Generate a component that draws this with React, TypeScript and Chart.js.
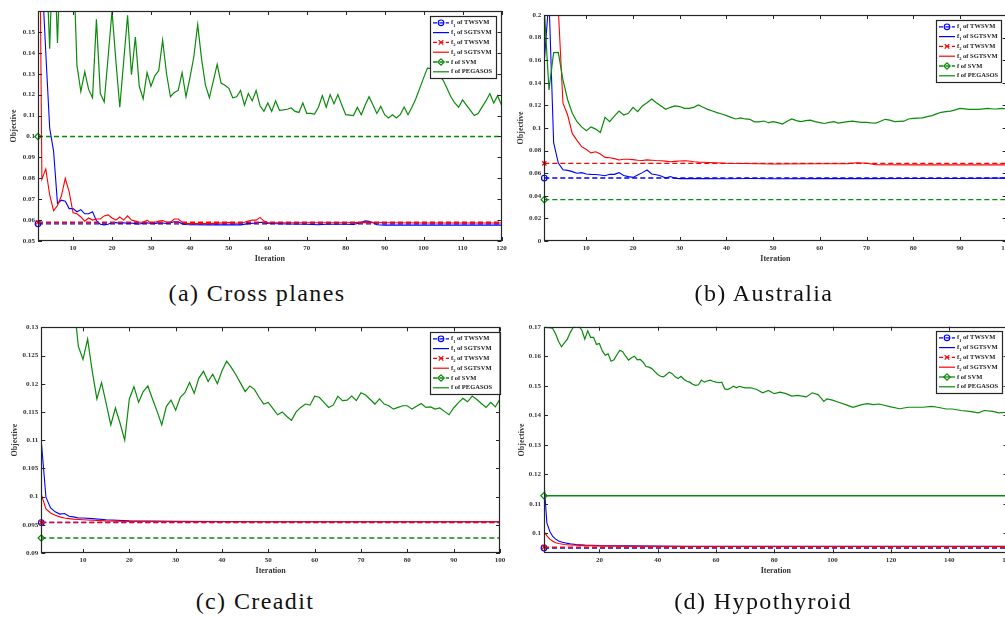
import React, { useEffect, useRef } from "react";
import { Chart, registerables } from "chart.js";

Chart.register(...registerables);

const FONT = '"Liberation Serif", "Times New Roman", Times, serif';
const BLUE = "#0000ff";
const RED = "#ff0000";
const GREEN = "#0b8a0b";
const AXIS = "#262626";

const seriesLabels = [
  "f1 of TWSVM",
  "f1 of SGTSVM",
  "f2 of TWSVM",
  "f2 of SGTSVM",
  "f of SVM",
  "f of PEGASOS",
];
const yAxisTitle = "Objective";
const xAxisTitle = "Iteration";

// ---------------- (a) Cross planes ----------------
const crossXTicks = [10, 20, 30, 40, 50, 60, 70, 80, 90, 100, 110, 120];
const crossYTicks = [0.05, 0.06, 0.07, 0.08, 0.09, 0.1, 0.11, 0.12, 0.13, 0.14, 0.15];
const crossTwsvm = [0.0582, 0.059]; // f1, f2
const crossSvm = [0.1];
const crossSgF1: [number, number][] = [
  [1, 0.3], [2, 0.178], [3, 0.14], [4, 0.104], [5, 0.093], [6, 0.068], [7, 0.0695], [8, 0.069], [9, 0.0655], [10, 0.0655],
  [11, 0.064], [12, 0.065], [13, 0.063], [14, 0.063], [15, 0.064], [16, 0.0597], [17, 0.058], [18, 0.0577], [19, 0.058], [20, 0.0588],
  [21, 0.0588], [22, 0.0585], [23, 0.0587], [24, 0.0585], [25, 0.0586], [26, 0.0583], [27, 0.0581], [28, 0.0585], [29, 0.0587], [30, 0.0584],
  [31, 0.0583], [32, 0.0588], [33, 0.0586], [34, 0.0584], [35, 0.0588], [36, 0.0592], [37, 0.0592], [38, 0.0582], [39, 0.0579], [40, 0.0578],
  [45, 0.0577], [50, 0.0578], [53, 0.0577], [55, 0.0583], [57, 0.0586], [58, 0.059], [59, 0.0588], [60, 0.0584], [65, 0.0581], [70, 0.058],
  [73, 0.0578], [75, 0.058], [80, 0.058], [82, 0.0579], [83, 0.0584], [84, 0.0589], [85, 0.0596], [86, 0.0594], [87, 0.0588], [88, 0.0578],
  [90, 0.0576], [100, 0.0576], [110, 0.0576], [120, 0.0576],
];
const crossSgF2: [number, number][] = [
  [1, 0.3], [2, 0.0795], [3, 0.0845], [4, 0.072], [5, 0.0645], [6, 0.067], [7, 0.0715], [8, 0.08], [9, 0.0735], [10, 0.0635],
  [11, 0.063], [12, 0.0615], [13, 0.0595], [14, 0.061], [15, 0.06], [16, 0.0605], [17, 0.0605], [18, 0.062], [19, 0.0625], [20, 0.061],
  [21, 0.06], [22, 0.0615], [23, 0.06], [24, 0.062], [25, 0.06], [26, 0.0595], [27, 0.059], [28, 0.059], [29, 0.06], [30, 0.0585],
  [31, 0.059], [32, 0.0595], [33, 0.0598], [34, 0.059], [35, 0.059], [36, 0.0605], [37, 0.0605], [38, 0.059], [39, 0.0584], [40, 0.0583],
  [45, 0.0583], [50, 0.0588], [52, 0.0585], [54, 0.059], [55, 0.0595], [56, 0.06], [57, 0.06], [58, 0.0613], [59, 0.0595], [60, 0.0588],
  [70, 0.0587], [80, 0.0587], [85, 0.0589], [90, 0.0587], [100, 0.0586], [110, 0.0586], [120, 0.0586],
];
const crossPegasos = [
  0.19, 0.2, 0.19, 0.142, 0.2, 0.1447, 0.2, 0.2, 0.2, 0.19,
  0.134, 0.1215, 0.131, 0.1225, 0.1185, 0.156, 0.1205, 0.1165, 0.138, 0.16,
  0.136, 0.114, 0.136, 0.158, 0.1295, 0.1475, 0.124, 0.118, 0.1305, 0.124,
  0.129, 0.1315, 0.146, 0.13, 0.119, 0.121, 0.122, 0.1305, 0.119, 0.128,
  0.138, 0.1535, 0.137, 0.1245, 0.1185, 0.1265, 0.1345, 0.1255, 0.1245, 0.123,
  0.1185, 0.119, 0.122, 0.115, 0.1205, 0.117, 0.122, 0.1147, 0.112, 0.116,
  0.112, 0.117, 0.1125, 0.1127, 0.113, 0.1136, 0.112, 0.1115, 0.116, 0.111,
  0.111, 0.1107, 0.114, 0.1195, 0.114, 0.12, 0.1157, 0.12, 0.115, 0.1104,
  0.1102, 0.11, 0.1139, 0.1104, 0.115, 0.119, 0.115, 0.111, 0.1144, 0.1104,
  0.1088, 0.1104, 0.1088, 0.1104, 0.1141, 0.1104, 0.114, 0.118, 0.123, 0.128,
  0.1327, 0.1325, 0.131, 0.129, 0.127, 0.123, 0.119, 0.116, 0.114, 0.1175,
  0.115, 0.1125, 0.11, 0.111, 0.114, 0.117, 0.1205, 0.116, 0.1195, 0.115,
];

// ---------------- (b) Australia ----------------
const ausXTicks = [10, 20, 30, 40, 50, 60, 70, 80, 90, 100];
const ausYTicks = [0, 0.02, 0.04, 0.06, 0.08, 0.1, 0.12, 0.14, 0.16, 0.18, 0.2];
const ausTwsvm = [0.0557, 0.0687];
const ausSvm = [0.0366];
const ausSgF1: [number, number][] = [
  [1, 0.159], [2, 0.215], [3, 0.087], [4, 0.069], [5, 0.063], [6, 0.0625], [7, 0.0614], [8, 0.06], [9, 0.0605], [10, 0.0593],
  [11, 0.059], [12, 0.0588], [13, 0.0584], [14, 0.0578], [15, 0.059], [16, 0.059], [17, 0.0605], [18, 0.058], [19, 0.057], [20, 0.0563],
  [21, 0.0584], [22, 0.0605], [23, 0.0628], [24, 0.0593], [25, 0.0587], [26, 0.0575], [27, 0.0557], [28, 0.057], [29, 0.0555], [30, 0.0552],
  [35, 0.0552], [40, 0.0551], [45, 0.0553], [50, 0.0551], [60, 0.0552], [70, 0.0552], [80, 0.0553], [90, 0.0553], [100, 0.0556],
];
const ausSgF2: [number, number][] = [
  [1, 0.8], [2, 0.6], [3, 0.4], [4, 0.205], [5, 0.122], [6, 0.1115], [7, 0.095], [8, 0.089], [9, 0.0835], [10, 0.081],
  [11, 0.078], [12, 0.079], [13, 0.077], [14, 0.074], [15, 0.0737], [16, 0.0729], [17, 0.0717], [18, 0.0723], [19, 0.0723], [20, 0.072],
  [21, 0.0715], [22, 0.0712], [23, 0.0718], [24, 0.0715], [25, 0.0712], [26, 0.071], [27, 0.0707], [28, 0.0702], [29, 0.0705], [30, 0.0708],
  [31, 0.071], [32, 0.0708], [33, 0.0702], [34, 0.0698], [35, 0.0697], [40, 0.0688], [50, 0.0682], [60, 0.0683], [66, 0.0685], [68, 0.0693],
  [70, 0.0688], [72, 0.0676], [80, 0.0674], [90, 0.0674], [100, 0.0674],
];
const ausPegasos = [
  0.205, 0.1336, 0.1667, 0.167, 0.1425, 0.125, 0.113, 0.1056, 0.101, 0.0976,
  0.101, 0.099, 0.096, 0.1094, 0.1056, 0.1106, 0.115, 0.1115, 0.113, 0.1183,
  0.1145, 0.1195, 0.1224, 0.1257, 0.1224, 0.1195, 0.1165, 0.1183, 0.1195, 0.119,
  0.1174, 0.1174, 0.1183, 0.1204, 0.1183, 0.1165, 0.115, 0.1136, 0.1124, 0.111,
  0.1094, 0.108, 0.109, 0.108, 0.1077, 0.1055, 0.1055, 0.1062, 0.1047, 0.1056,
  0.1048, 0.1035, 0.106, 0.108, 0.1065, 0.1056, 0.1065, 0.107, 0.1056, 0.1048,
  0.104, 0.105, 0.1056, 0.1044, 0.105, 0.1056, 0.106, 0.1055, 0.105, 0.105,
  0.1046, 0.1044, 0.106, 0.1077, 0.107, 0.1056, 0.1058, 0.106, 0.108, 0.1085,
  0.1088, 0.109, 0.11, 0.111, 0.1125, 0.1139, 0.1145, 0.115, 0.116, 0.1174,
  0.117, 0.1165, 0.1165, 0.1165, 0.117, 0.1174, 0.1168, 0.117, 0.1174, 0.1168,
];

// ---------------- (c) Creadit ----------------
const credXTicks = [10, 20, 30, 40, 50, 60, 70, 80, 90, 100];
const credYTicks = [0.09, 0.095, 0.1, 0.105, 0.11, 0.115, 0.12, 0.125, 0.13];
const credTwsvm = [0.0954, 0.09542];
const credSvm = [0.09265];
const credSgF1: [number, number][] = [
  [1, 0.1098], [2, 0.0999], [3, 0.098], [4, 0.0973], [5, 0.0969], [6, 0.097], [7, 0.0965], [8, 0.0964], [9, 0.0962], [10, 0.0962],
  [12, 0.0961], [15, 0.0959], [20, 0.0957], [30, 0.0956], [50, 0.09555], [100, 0.09555],
];
const credSgF2: [number, number][] = [
  [1, 0.1004], [2, 0.0978], [3, 0.0971], [4, 0.0967], [5, 0.0964], [6, 0.0962], [7, 0.0961], [8, 0.096], [10, 0.0959], [15, 0.0957],
  [20, 0.0956], [30, 0.09555], [100, 0.09555],
];
const credPegasos = [
  0.15, 0.15, 0.148, 0.145, 0.142, 0.14, 0.137, 0.1345, 0.1266, 0.1243,
  0.1279, 0.1222, 0.1173, 0.1202, 0.1165, 0.1127, 0.1157, 0.113, 0.11, 0.1173,
  0.1195, 0.1167, 0.1186, 0.1196, 0.1173, 0.1151, 0.1127, 0.116, 0.1171, 0.1153,
  0.1176, 0.1184, 0.1202, 0.1183, 0.121, 0.1222, 0.1204, 0.1217, 0.12, 0.1223,
  0.124, 0.1229, 0.1216, 0.1201, 0.1186, 0.1196, 0.119, 0.1176, 0.1164, 0.1167,
  0.1156, 0.1145, 0.115, 0.1142, 0.1135, 0.115, 0.1158, 0.1164, 0.1162, 0.1178,
  0.1176, 0.1167, 0.1158, 0.1162, 0.1178, 0.117, 0.1171, 0.1178, 0.117, 0.1184,
  0.118, 0.1172, 0.1164, 0.1173, 0.1164, 0.1161, 0.1155, 0.1158, 0.1161, 0.1161,
  0.1155, 0.116, 0.1165, 0.1158, 0.1159, 0.1155, 0.1157, 0.1151, 0.1145, 0.1157,
  0.1166, 0.1174, 0.1168, 0.1178, 0.1172, 0.1165, 0.1158, 0.1167, 0.1159, 0.1173,
];

// ---------------- (d) Hypothyroid ----------------
const hypoXTicks = [20, 40, 60, 80, 100, 120, 140, 160];
const hypoYTicks = [0.1, 0.11, 0.12, 0.13, 0.14, 0.15, 0.16, 0.17];
const hypoTwsvm = [0.095, 0.0953];
const hypoSvm = [0.1127];
const hypoSgF1: [number, number][] = [
  [1, 0.1172], [2, 0.1034], [3, 0.1006], [4, 0.0989], [5, 0.098], [6, 0.0974], [7, 0.097], [8, 0.0968], [10, 0.0964], [12, 0.0962],
  [15, 0.096], [20, 0.0958], [30, 0.0957], [50, 0.0956], [100, 0.0956], [160, 0.0956],
];
const hypoSgF2: [number, number][] = [
  [1, 0.1006], [2, 0.0991], [3, 0.098], [4, 0.0973], [5, 0.0968], [6, 0.0965], [8, 0.0962], [10, 0.096], [15, 0.0958], [20, 0.0957],
  [30, 0.0956], [50, 0.0955], [160, 0.0955],
];
const hypoPegasos: [number, number][] = [
  [1, 0.1705], [2, 0.1697], [3, 0.1697], [4, 0.1694], [5, 0.1675], [6, 0.165], [7, 0.1632], [8, 0.1645], [9, 0.1658], [10, 0.168],
  [11, 0.1698], [12, 0.1705], [13, 0.1702], [14, 0.1688], [15, 0.1658], [16, 0.1686], [17, 0.1664], [18, 0.1664], [19, 0.164], [20, 0.1643],
  [21, 0.1618], [22, 0.1603], [23, 0.1608], [24, 0.1583], [25, 0.1588], [26, 0.1605], [27, 0.162], [28, 0.1615], [29, 0.16], [30, 0.1587],
  [31, 0.1595], [32, 0.16], [33, 0.1588], [34, 0.1589], [35, 0.158], [36, 0.1565], [37, 0.1563], [38, 0.1558], [39, 0.1548], [40, 0.1538],
  [41, 0.1532], [42, 0.153], [43, 0.1538], [44, 0.1546], [45, 0.1541], [46, 0.153], [47, 0.1524], [48, 0.1532], [49, 0.1522], [50, 0.1515],
  [51, 0.1512], [52, 0.1505], [53, 0.1501], [54, 0.1503], [55, 0.1519], [56, 0.1512], [57, 0.1516], [58, 0.1519], [59, 0.1515], [60, 0.1512],
  [61, 0.151], [62, 0.1512], [63, 0.1489], [64, 0.1487], [65, 0.1492], [66, 0.1498], [67, 0.1493], [68, 0.1498], [69, 0.1495], [70, 0.1493],
  [72, 0.1493], [74, 0.1487], [76, 0.1476], [78, 0.1484], [80, 0.1473], [82, 0.1478], [84, 0.1473], [86, 0.1465], [88, 0.1467], [91, 0.1462],
  [93, 0.1476], [95, 0.147], [96, 0.1459], [97, 0.1447], [98, 0.1455], [100, 0.1451], [102, 0.1444], [105, 0.1434], [107, 0.1427], [110, 0.1436],
  [112, 0.1439], [114, 0.1436], [116, 0.1438], [118, 0.1433], [120, 0.1428], [123, 0.1422], [126, 0.1427], [128, 0.1427], [131, 0.1427], [134, 0.143],
  [136, 0.1427], [139, 0.1421], [141, 0.1421], [144, 0.1416], [147, 0.1413], [150, 0.1408], [152, 0.1416], [155, 0.1413], [157, 0.1408], [160, 0.141],
];

// ---------------- panel table ----------------
type Rect = { l: number; t: number; r: number; b: number };
type PanelDef = {
  id: string;
  caption: string;
  capX: number;
  capY: number;
  area: Rect;
  xMin: number;
  xMax: number;
  yMin: number;
  yMax: number;
  xTicks: number[];
  yTicks: number[];
  twsvm: number[];
  svm: number[];
  svmSolid: boolean;
  sgF1: [number, number][];
  sgF2: [number, number][];
  pegasos: [number, number][];
  legend: { x: number; y: number; w: number; h: number };
  yTitleX: number;
  xTitleY: number;
};

const seq = (vals: number[]): [number, number][] => vals.map((v, i) => [i + 1, v]);

const panels: PanelDef[] = [
  {
    id: "a", caption: "(a) Cross planes", capX: 257, capY: 295,
    area: { l: 38, t: 11, r: 501.5, b: 241 },
    xMin: 1, xMax: 120, yMin: 0.05, yMax: 0.16, xTicks: crossXTicks, yTicks: crossYTicks,
    twsvm: crossTwsvm, svm: crossSvm, svmSolid: false,
    sgF1: crossSgF1, sgF2: crossSgF2, pegasos: seq(crossPegasos),
    legend: { x: 430, y: 16, w: 66, h: 62 }, yTitleX: 14, xTitleY: 259,
  },
  {
    id: "b", caption: "(b) Australia", capX: 764, capY: 295,
    area: { l: 544.3, t: 15, r: 1006.6, b: 241 },
    xMin: 1, xMax: 100, yMin: 0, yMax: 0.2, xTicks: ausXTicks, yTicks: ausYTicks,
    twsvm: ausTwsvm, svm: ausSvm, svmSolid: false,
    sgF1: ausSgF1, sgF2: ausSgF2, pegasos: seq(ausPegasos),
    legend: { x: 936, y: 20, w: 65, h: 62 }, yTitleX: 520.7, xTitleY: 259,
  },
  {
    id: "c", caption: "(c) Creadit", capX: 255, capY: 603,
    area: { l: 41.3, t: 327.3, r: 500, b: 553 },
    xMin: 1, xMax: 100, yMin: 0.09, yMax: 0.13, xTicks: credXTicks, yTicks: credYTicks,
    twsvm: credTwsvm, svm: credSvm, svmSolid: false,
    sgF1: credSgF1, sgF2: credSgF2, pegasos: seq(credPegasos),
    legend: { x: 430, y: 332, w: 69.5, h: 62 }, yTitleX: 15, xTitleY: 571,
  },
  {
    id: "d", caption: "(d) Hypothyroid", capX: 763, capY: 603,
    area: { l: 544, t: 326.7, r: 1007.5, b: 553.3 },
    xMin: 1, xMax: 160, yMin: 0.0932, yMax: 0.17, xTicks: hypoXTicks, yTicks: hypoYTicks,
    twsvm: hypoTwsvm, svm: hypoSvm, svmSolid: true,
    sgF1: hypoSgF1, sgF2: hypoSgF2, pegasos: hypoPegasos,
    legend: { x: 936, y: 331, w: 66, h: 62 }, yTitleX: 521.7, xTitleY: 571,
  },
];

const fmt = (v: number) => String(parseFloat(Number(v).toFixed(4)));
const DASH = [5, 3];

type LegendEntry = { label: string; color: string; dash: number[]; width: number; marker: string | null };

function legendEntries(p: PanelDef): LegendEntry[] {
  return [
    { label: seriesLabels[0], color: BLUE, dash: DASH, width: 1.3, marker: "circle" },
    { label: seriesLabels[1], color: BLUE, dash: [], width: 1.2, marker: null },
    { label: seriesLabels[2], color: RED, dash: DASH, width: 1.3, marker: "cross" },
    { label: seriesLabels[3], color: RED, dash: [], width: 1.2, marker: null },
    { label: seriesLabels[4], color: GREEN, dash: p.svmSolid ? [] : DASH, width: 1.3, marker: "diamond" },
    { label: seriesLabels[5], color: GREEN, dash: [], width: 1.2, marker: null },
  ];
}

function drawMarker(ctx: CanvasRenderingContext2D, kind: string, x: number, y: number, color: string) {
  ctx.save();
  ctx.setLineDash([]);
  ctx.strokeStyle = color;
  ctx.lineWidth = 1.2;
  ctx.beginPath();
  if (kind === "circle") {
    ctx.arc(x, y, 2.8, 0, Math.PI * 2);
  } else if (kind === "cross") {
    ctx.moveTo(x - 2.3, y - 2.3);
    ctx.lineTo(x + 2.3, y + 2.3);
    ctx.moveTo(x + 2.3, y - 2.3);
    ctx.lineTo(x - 2.3, y + 2.3);
  } else {
    ctx.moveTo(x, y - 3.2);
    ctx.lineTo(x + 3.2, y);
    ctx.lineTo(x, y + 3.2);
    ctx.lineTo(x - 3.2, y);
    ctx.closePath();
  }
  ctx.stroke();
  ctx.restore();
}

function geometry(p: PanelDef) {
  const cx = Math.floor(p.area.l) - 42;
  const cy = Math.floor(p.area.t) - 10;
  const cw = Math.ceil(p.area.r) + 14 - cx;
  const ch = Math.ceil(p.area.b) + 34 - cy;
  return { cx, cy, cw, ch };
}

function framePlugin(p: PanelDef, cx: number, cy: number) {
  return {
    id: "frame_" + p.id,
    afterDraw(chart: any) {
      const ctx: CanvasRenderingContext2D = chart.ctx;
      const a = chart.chartArea;
      const xs = chart.scales.x;
      const ys = chart.scales.y;
      ctx.save();
      // inward ticks on all four sides
      ctx.strokeStyle = AXIS;
      ctx.lineWidth = 1;
      ctx.setLineDash([]);
      const TL = 4;
      ctx.beginPath();
      p.xTicks.forEach((v) => {
        const px = Math.round(xs.getPixelForValue(v)) + 0.5;
        ctx.moveTo(px, a.bottom);
        ctx.lineTo(px, a.bottom - TL);
        ctx.moveTo(px, a.top);
        ctx.lineTo(px, a.top + TL);
      });
      p.yTicks.forEach((v) => {
        const py = Math.round(ys.getPixelForValue(v)) + 0.5;
        ctx.moveTo(a.left, py);
        ctx.lineTo(a.left + TL, py);
        ctx.moveTo(a.right, py);
        ctx.lineTo(a.right - TL, py);
      });
      ctx.stroke();
      // frame
      const L = Math.round(a.left) + 0.5;
      const T = Math.round(a.top) + 0.5;
      const R = Math.round(a.right) - 0.5;
      const B = Math.round(a.bottom) - 0.5;
      ctx.lineWidth = 1.2;
      ctx.strokeRect(L, T, R - L, B - T);

      // axis titles
      ctx.fillStyle = "#333";
      ctx.font = `bold 8px ${FONT}`;
      ctx.textAlign = "center";
      ctx.textBaseline = "middle";
      ctx.fillText(xAxisTitle, (a.left + a.right) / 2, p.xTitleY - cy);
      ctx.save();
      ctx.translate(p.yTitleX - cx, (a.top + a.bottom) / 2);
      ctx.rotate(-Math.PI / 2);
      ctx.fillText(yAxisTitle, 0, 0);
      ctx.restore();

      // legend
      const bx = p.legend.x - cx;
      const by = p.legend.y - cy;
      ctx.fillStyle = "#ffffff";
      ctx.fillRect(bx, by, p.legend.w, p.legend.h);
      ctx.strokeStyle = AXIS;
      ctx.lineWidth = 1.2;
      ctx.strokeRect(Math.round(bx) + 0.5, Math.round(by) + 0.5, Math.round(p.legend.w), Math.round(p.legend.h));
      legendEntries(p).forEach((e, k) => {
        const yy = by + 6.8 + k * 9.8;
        ctx.save();
        ctx.strokeStyle = e.color;
        ctx.lineWidth = e.width;
        ctx.setLineDash(e.dash.map((d) => d * 0.8));
        ctx.beginPath();
        ctx.moveTo(bx + 3, yy);
        ctx.lineTo(bx + 19, yy);
        ctx.stroke();
        ctx.restore();
        if (e.marker) drawMarker(ctx, e.marker, bx + 11, yy, e.color);
        const m = /^f(\d?)(.*)$/.exec(e.label)!;
        let tx = bx + 21;
        ctx.fillStyle = "#222";
        ctx.textAlign = "left";
        ctx.textBaseline = "middle";
        ctx.font = `bold 6.5px ${FONT}`;
        ctx.fillText("f", tx, yy);
        tx += ctx.measureText("f").width;
        if (m[1]) {
          ctx.font = `bold 4.5px ${FONT}`;
          ctx.fillText(m[1], tx, yy + 2.6);
          tx += ctx.measureText(m[1]).width;
          ctx.font = `bold 6.5px ${FONT}`;
        }
        ctx.fillText(m[2], tx, yy);
      });
      ctx.restore();
    },
  };
}

function buildConfig(p: PanelDef) {
  const { cx, cy, cw, ch } = geometry(p);
  const padTop = p.area.t - cy;
  const padRight = cw - (p.area.r - cx);
  const yWidth = p.area.l - cx;
  const xHeight = ch - (p.area.b - cy);
  const hline = (v: number) => [
    { x: p.xMin, y: v },
    { x: p.xMax, y: v },
  ];
  const toPts = (arr: [number, number][]) => arr.map(([x, y]) => ({ x, y }));
  const tickFont = { family: FONT, size: 7, weight: "bold" as const };
  const datasets: any[] = [
    {
      label: seriesLabels[0], data: hline(p.twsvm[0]), borderColor: BLUE, borderWidth: 1.4, borderDash: DASH,
      pointStyle: "circle", pointRadius: [2.8, 0], pointBorderColor: BLUE, pointBackgroundColor: "rgba(0,0,0,0)",
      pointBorderWidth: 1.2, order: 6, clip: 8,
    },
    { label: seriesLabels[1], data: toPts(p.sgF1), borderColor: BLUE, borderWidth: 1.1, pointRadius: 0, order: 5 },
    {
      label: seriesLabels[2], data: hline(p.twsvm[1]), borderColor: RED, borderWidth: 1.4, borderDash: DASH,
      pointStyle: "crossRot", pointRadius: [3, 0], pointBorderColor: RED, pointBackgroundColor: "rgba(0,0,0,0)",
      pointBorderWidth: 1.2, order: 4, clip: 8,
    },
    { label: seriesLabels[3], data: toPts(p.sgF2), borderColor: RED, borderWidth: 1.1, pointRadius: 0, order: 3 },
    {
      label: seriesLabels[4], data: hline(p.svm[0]), borderColor: GREEN, borderWidth: 1.4,
      borderDash: p.svmSolid ? [] : DASH,
      pointStyle: "rectRot", pointRadius: [3.2, 0], pointBorderColor: GREEN, pointBackgroundColor: "rgba(0,0,0,0)",
      pointBorderWidth: 1.2, order: 2, clip: 8,
    },
    { label: seriesLabels[5], data: toPts(p.pegasos), borderColor: GREEN, borderWidth: 1.2, pointRadius: 0, order: 1 },
  ];
  return {
    type: "line" as const,
    data: { datasets },
    options: {
      responsive: false,
      animation: false as const,
      devicePixelRatio: 1,
      events: [],
      parsing: false as const,
      layout: { padding: { left: 0, top: padTop, right: padRight, bottom: 0 } },
      elements: { line: { tension: 0 } },
      plugins: { legend: { display: false }, tooltip: { enabled: false }, title: { display: false } },
      scales: {
        x: {
          type: "linear" as const,
          min: p.xMin,
          max: p.xMax,
          afterBuildTicks: (s: any) => {
            s.ticks = p.xTicks.map((v) => ({ value: v }));
          },
          afterFit: (s: any) => {
            s.height = xHeight;
            s.paddingLeft = 0;
            s.paddingRight = 0;
          },
          grid: { display: false, drawTicks: false },
          border: { display: false },
          ticks: {
            font: tickFont, color: "#333", padding: 3, maxRotation: 0, autoSkip: false,
            callback: (v: any) => fmt(v),
          },
        },
        y: {
          type: "linear" as const,
          min: p.yMin,
          max: p.yMax,
          afterBuildTicks: (s: any) => {
            s.ticks = p.yTicks.map((v) => ({ value: v }));
          },
          afterFit: (s: any) => {
            s.width = yWidth;
            s.paddingTop = 0;
            s.paddingBottom = 0;
          },
          grid: { display: false, drawTicks: false },
          border: { display: false },
          ticks: {
            font: tickFont, color: "#333", padding: 3, autoSkip: false,
            callback: (v: any) => fmt(v),
          },
        },
      },
    },
    plugins: [framePlugin(p, cx, cy)],
  };
}

function PanelChart({ p }: { p: PanelDef }) {
  const ref = useRef<HTMLCanvasElement>(null);
  const { cx, cy, cw, ch } = geometry(p);
  useEffect(() => {
    if (!ref.current) return;
    const chart = new Chart(ref.current, buildConfig(p) as any);
    return () => chart.destroy();
  }, [p]);
  return (
    <canvas
      ref={ref}
      width={cw}
      height={ch}
      style={{ position: "absolute", left: cx, top: cy, width: cw, height: ch }}
    />
  );
}

export default function App() {
  return (
    <div
      style={{
        position: "absolute",
        left: 0,
        top: 0,
        width: 1005,
        height: 618,
        overflow: "hidden",
        background: "#ffffff",
      }}
    >
      {panels.map((p) => (
        <PanelChart key={p.id} p={p} />
      ))}
      {panels.map((p) => (
        <div
          key={"cap" + p.id}
          style={{
            position: "absolute",
            left: p.capX - 200,
            width: 400,
            top: p.capY - 14,
            textAlign: "center",
            fontFamily: FONT,
            fontSize: 24,
            lineHeight: "24px",
            letterSpacing: 1.4,
            color: "#111",
            whiteSpace: "nowrap",
          }}
        >
          {p.caption}
        </div>
      ))}
    </div>
  );
}
